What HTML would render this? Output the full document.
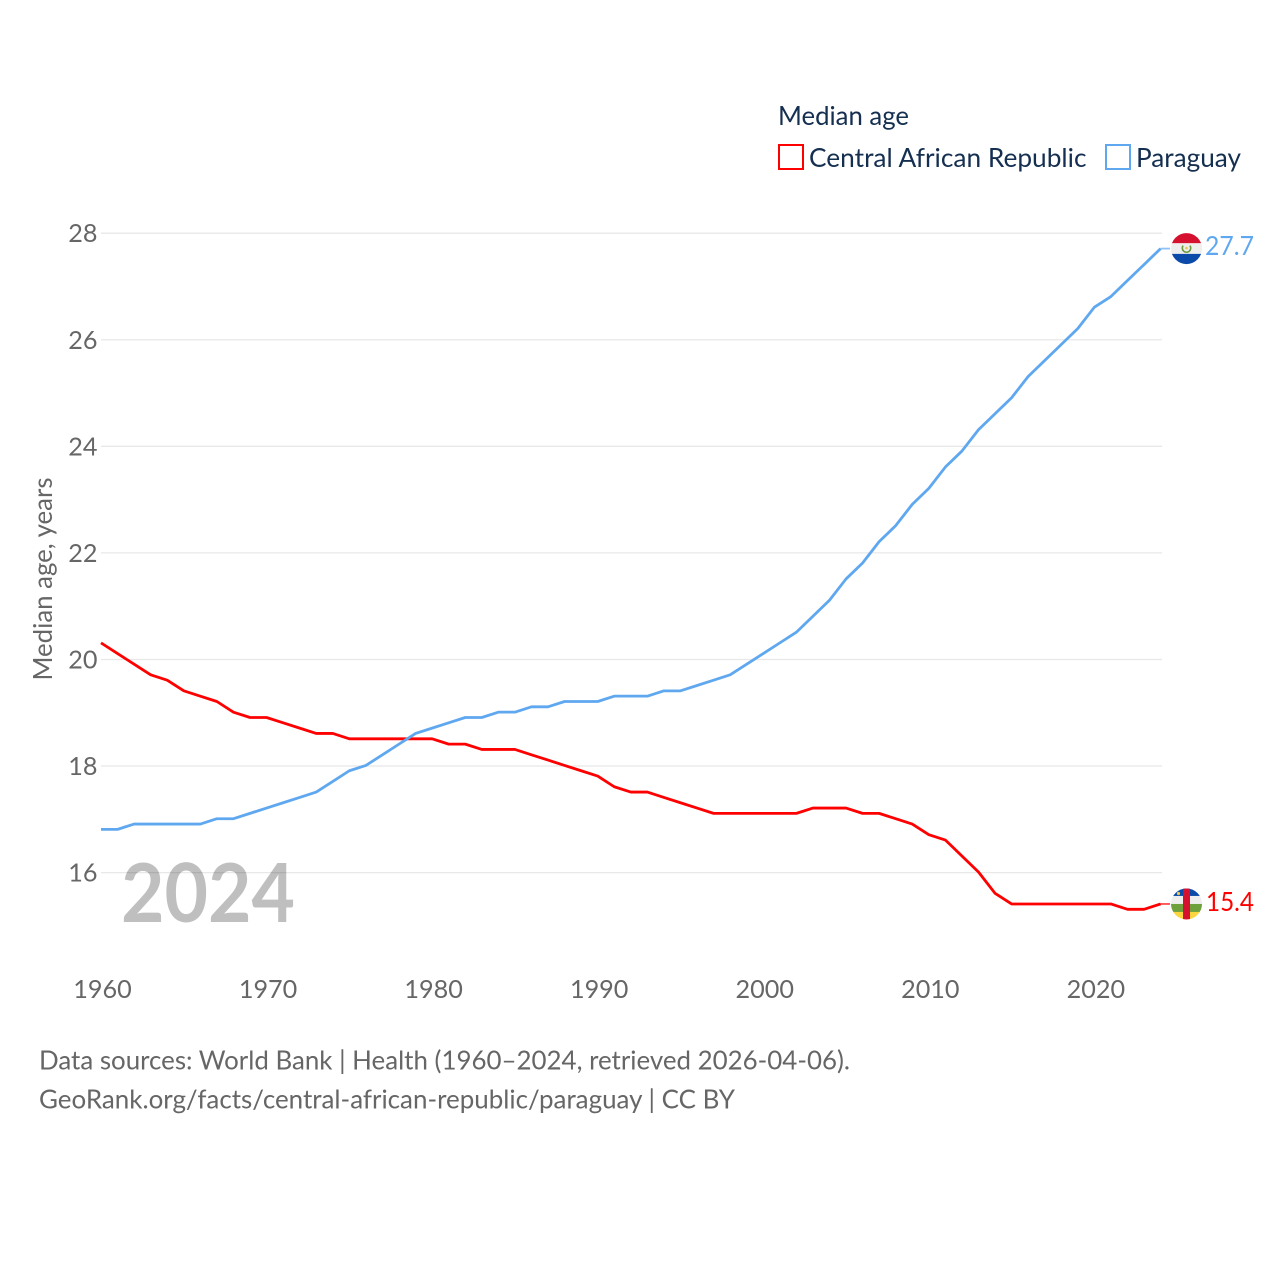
<!DOCTYPE html>
<html lang="en">
<head>
<meta charset="utf-8">
<title>Median age: Central African Republic and Paraguay</title>
<style>
html,body{margin:0;padding:0;background:#fff;width:1280px;height:1280px;overflow:hidden}
svg{display:block}
text{font-family:"Lato","Carlito","Liberation Sans",sans-serif}
</style>
</head>
<body>
<svg id="chart" width="1280" height="1280" viewBox="0 0 1280 1280" xmlns="http://www.w3.org/2000/svg">
  <defs>
    <clipPath id="flag-clip-py"><circle cx="0" cy="0" r="15.5"/></clipPath>
    <clipPath id="flag-clip-cf"><circle cx="0" cy="0" r="15.5"/></clipPath>
  </defs>
  <g id="grid"></g>
  <g id="yticks"></g>
  <g id="xticks"></g>
  <text x="52" y="579" transform="rotate(-90 52 579)" text-anchor="middle" font-size="26.5" fill="#666" textLength="203" lengthAdjust="spacingAndGlyphs">Median age, years</text>
  <text x="121" y="922" font-size="81" font-weight="700" fill="#000" fill-opacity="0.25" textLength="174" lengthAdjust="spacingAndGlyphs">2024</text>
  <g id="series"></g>
  <g id="ends"></g>

  <g>
    <text x="778" y="125" font-size="26.5" fill="#152f50" textLength="131" lengthAdjust="spacingAndGlyphs">Median age</text>
    <rect x="779" y="145" width="24" height="24" fill="none" stroke="#ff0000" stroke-width="2"/>
    <text x="809" y="167" font-size="26.5" fill="#152f50" textLength="277.5" lengthAdjust="spacingAndGlyphs">Central African Republic</text>
    <rect x="1106" y="145" width="24" height="24" fill="none" stroke="#5fa8f0" stroke-width="2"/>
    <text x="1136" y="167" font-size="26.5" fill="#152f50" textLength="105" lengthAdjust="spacingAndGlyphs">Paraguay</text>
  </g>

  <text x="39" y="1069.7" font-size="26.5" fill="#666" textLength="811" lengthAdjust="spacingAndGlyphs">Data sources: World Bank | Health (1960–2024, retrieved 2026-04-06).</text>
  <text x="39" y="1108.7" font-size="26.5" fill="#666" textLength="696" lengthAdjust="spacingAndGlyphs">GeoRank.org/facts/central-african-republic/paraguay | CC BY</text>
</svg>
<script>
const years = [1960,1961,1962,1963,1964,1965,1966,1967,1968,1969,1970,1971,1972,1973,1974,1975,1976,1977,1978,1979,1980,1981,1982,1983,1984,1985,1986,1987,1988,1989,1990,1991,1992,1993,1994,1995,1996,1997,1998,1999,2000,2001,2002,2003,2004,2005,2006,2007,2008,2009,2010,2011,2012,2013,2014,2015,2016,2017,2018,2019,2020,2021,2022,2023,2024];
const carValues = [20.3,20.1,19.9,19.7,19.6,19.4,19.3,19.2,19.0,18.9,18.9,18.8,18.7,18.6,18.6,18.5,18.5,18.5,18.5,18.5,18.5,18.4,18.4,18.3,18.3,18.3,18.2,18.1,18.0,17.9,17.8,17.6,17.5,17.5,17.4,17.3,17.2,17.1,17.1,17.1,17.1,17.1,17.1,17.2,17.2,17.2,17.1,17.1,17.0,16.9,16.7,16.6,16.3,16.0,15.6,15.4,15.4,15.4,15.4,15.4,15.4,15.4,15.3,15.3,15.4];
const paraguayValues = [16.8,16.8,16.9,16.9,16.9,16.9,16.9,17.0,17.0,17.1,17.2,17.3,17.4,17.5,17.7,17.9,18.0,18.2,18.4,18.6,18.7,18.8,18.9,18.9,19.0,19.0,19.1,19.1,19.2,19.2,19.2,19.3,19.3,19.3,19.4,19.4,19.5,19.6,19.7,19.9,20.1,20.3,20.5,20.8,21.1,21.5,21.8,22.2,22.5,22.9,23.2,23.6,23.9,24.3,24.6,24.9,25.3,25.6,25.9,26.2,26.6,26.8,27.1,27.4,27.7];
const yTickValues = [16,18,20,22,24,26,28];
const xTickValues = [1960,1970,1980,1990,2000,2010,2020];

const SVGNS = 'http://www.w3.org/2000/svg';
const xScale = function (year) { return 101 + (year - 1960) * (1160.6 - 101) / 64; };
const yScale = function (value) { return 872.6 - (value - 16) * (872.6 - 233.2) / 12; };
const lineShift = -0.6;

function make(tag, attrs, parent) {
  const el = document.createElementNS(SVGNS, tag);
  for (const k in attrs) { el.setAttribute(k, attrs[k]); }
  parent.appendChild(el);
  return el;
}

const gridG = document.getElementById('grid');
const yG = document.getElementById('yticks');
const xG = document.getElementById('xticks');
const seriesG = document.getElementById('series');
const endsG = document.getElementById('ends');

yTickValues.forEach(function (v) {
  const line = make('line', {x1: 101, x2: 1162, y1: yScale(v), y2: yScale(v), stroke: '#e8e8e8', 'stroke-width': 1.3}, gridG);
  
  
  const t = make('text', {x: 97.5, y: yScale(v) + 9, 'text-anchor': 'end', 'font-size': 25.2, fill: '#666'}, yG);
  
  
  t.textContent = String(v);
});

xTickValues.forEach(function (v) {
  const t = make('text', {x: xScale(v) + 1.5, y: 998, 'text-anchor': 'middle', 'font-size': 25.2, fill: '#666'}, xG);
  
  
  t.textContent = String(v);
});

function drawLine(values, color, name) {
  const d = values.map(function (v, i) {
    return (i ? 'L' : 'M') + xScale(years[i]).toFixed(2) + ' ' + (yScale(v) + lineShift).toFixed(2);
  }).join(' ');
  const p = make('path', {d: d, fill: 'none', stroke: color, 'stroke-width': 2.8, 'stroke-linejoin': 'round'}, seriesG);
  
  
}
drawLine(carValues, '#ff0000', 'line-central-african-republic');
drawLine(paraguayValues, '#5fa8f0', 'line-paraguay');

function drawEnd(values, color, key, labelX, labelDy) {
  const last = values[values.length - 1];
  const y = yScale(last) + lineShift;
  const x0 = xScale(years[years.length - 1]);
  const conn = make('line', {x1: x0, x2: 1170, y1: y, y2: y, stroke: color, 'stroke-width': 1.8, 'stroke-opacity': 0.7}, endsG);
  
  

  const flag = make('g', {transform: 'translate(1186.5 ' + y.toFixed(2) + ')', 'clip-path': 'url(#flag-clip-' + key + ')'}, endsG);
  
  
  if (key === 'py') {
    make('rect', {x: -16, y: -16, width: 32, height: 10.7, fill: '#d5112f'}, flag);
    make('rect', {x: -16, y: -5.3, width: 32, height: 10.6, fill: '#eeeeee'}, flag);
    make('rect', {x: -16, y: 5.3, width: 32, height: 10.7, fill: '#0b4aa8'}, flag);
    make('path', {d: 'M-3.4 -3 A4.2 4.2 0 1 0 3.4 -3', fill: 'none', stroke: '#6c9a3c', 'stroke-width': 1.6}, flag);
    make('circle', {cx: 0, cy: -0.5, r: 1.3, fill: '#e8c84a'}, flag);
  } else {
    make('rect', {x: -16, y: -16, width: 32, height: 8, fill: '#0b4aa8'}, flag);
    make('rect', {x: -16, y: -8, width: 32, height: 8, fill: '#eeeeee'}, flag);
    make('rect', {x: -16, y: 0, width: 32, height: 8, fill: '#6ea03c'}, flag);
    make('rect', {x: -16, y: 8, width: 32, height: 8, fill: '#fcd63f'}, flag);
    make('rect', {x: -3.5, y: -16, width: 7, height: 32, fill: '#d5112f'}, flag);
    make('circle', {cx: -8, cy: -10.5, r: 1.6, fill: '#f0c84a'}, flag);
  }

  const t = make('text', {x: labelX, y: y + labelDy, 'font-size': 26.5, fill: color, textLength: 1254 - labelX, lengthAdjust: 'spacingAndGlyphs'}, endsG);
  
  
  t.textContent = last.toFixed(1);
}
drawEnd(paraguayValues, '#5fa8f0', 'py', 1205, 6.5);
drawEnd(carValues, '#ff0000', 'cf', 1206, 7);
</script>
</body>
</html>
